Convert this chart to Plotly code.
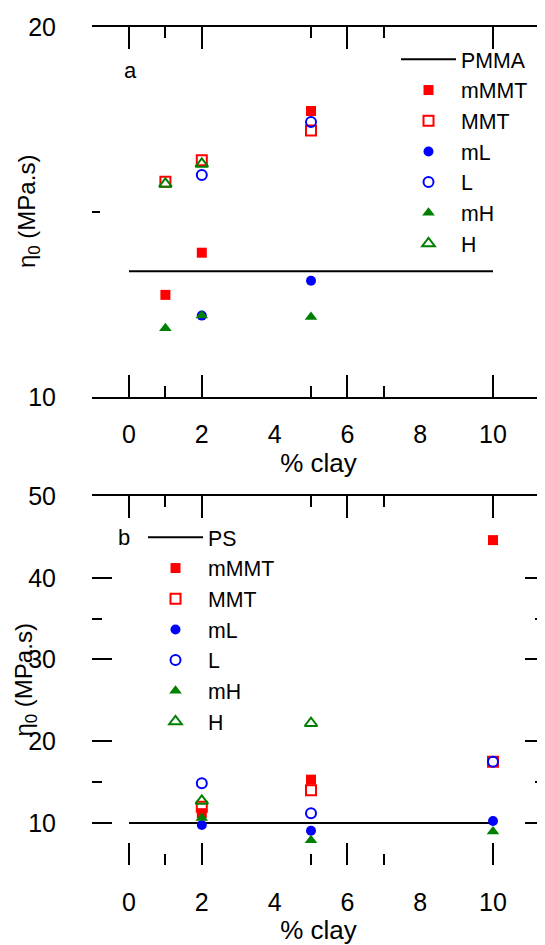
import plotly.graph_objects as go

# ---------------- data ----------------
# Panel a: PMMA matrix
pmma_x = [0, 10]
pmma_y = [13.4, 13.4]
a_x_mMMT = [1, 2, 5]
a_mMMT = [12.76, 13.9, 17.73]
a_x_MMT = [1, 2, 5]
a_MMT = [15.82, 16.4, 17.2]
a_x_mL = [2, 5]
a_mL = [12.2, 13.14]
a_x_L = [2, 5]
a_L = [16.0, 17.43]
a_x_mH = [1, 2, 5]
a_mH = [11.86, 12.2, 12.16]
a_x_H = [1, 2]
a_H = [15.76, 16.3]

# Panel b: PS matrix
ps_x = [0, 10]
ps_y = [10.0, 10.0]
b_x_mMMT = [2, 5, 10]
b_mMMT = [11.2, 15.3, 44.6]
b_x_MMT = [2, 5, 10]
b_MMT = [12.0, 14.0, 17.5]
b_x_mL = [2, 5, 10]
b_mL = [9.75, 9.06, 10.25]
b_x_L = [2, 5, 10]
b_L = [14.86, 11.2, 17.5]
b_x_mH = [2, 5, 10]
b_mH = [10.6, 7.9, 8.95]
b_x_H = [2, 5]
b_H = [12.7, 22.2]

x_label_vals = [0, 2, 4, 6, 8, 10]
x_major_ticks = [0, 2, 6, 10]
x_minor_ticks = [1, 5, 7]
ya_labels = [10, 20]
ya_minor = [15]
yb_labels = [10, 20, 30, 40, 50]
yb_minor = [15, 35]
y_title = "η<sub>0</sub> (MPa.s)"

# ---------------- geometry (reference pixels) ----------------
# browser body adds an 8px margin, so the figure is drawn 8px smaller
OFF = 8
PL, PR, PT, PB = 92, 545, 27, 865          # plot area in reference pixels
W, H = 545 - OFF, 945 - OFF
PW, PH = PR - PL, PB - PT


def px(xp):
    return (xp - PL) / PW


def py(yp):
    return (PB - yp) / PH


FONT = "Liberation Sans"
RED, BLUE, GREEN = "#ff0000", "#0000ff", "#008000"
styles = {
    "mMMT": dict(symbol="square", color=RED, size=10),
    "MMT": dict(symbol="square-open", color=RED, size=10, line=dict(width=2, color=RED)),
    "mL": dict(symbol="circle", color=BLUE, size=10),
    "L": dict(symbol="circle-open", color=BLUE, size=10, line=dict(width=2, color=BLUE)),
    "mH": dict(symbol="triangle-up", color=GREEN, size=11),
    "H": dict(symbol="triangle-up-open", color=GREEN, size=11, line=dict(width=2, color=GREEN)),
}

fig = go.Figure()

# Panel a
fig.add_trace(go.Scatter(x=pmma_x, y=pmma_y, mode="lines", name="PMMA",
                         line=dict(color="black", width=2), xaxis="x", yaxis="y", legend="legend"))
for name, xs, ys in [("mMMT", a_x_mMMT, a_mMMT), ("MMT", a_x_MMT, a_MMT), ("mL", a_x_mL, a_mL),
                     ("L", a_x_L, a_L), ("mH", a_x_mH, a_mH), ("H", a_x_H, a_H)]:
    fig.add_trace(go.Scatter(x=xs, y=ys, mode="markers", name=name, marker=styles[name],
                             xaxis="x", yaxis="y", legend="legend"))

# Panel b
fig.add_trace(go.Scatter(x=ps_x, y=ps_y, mode="lines", name="PS",
                         line=dict(color="black", width=2), xaxis="x2", yaxis="y2", legend="legend2"))
for name, xs, ys in [("mMMT", b_x_mMMT, b_mMMT), ("MMT", b_x_MMT, b_MMT), ("mL", b_x_mL, b_mL),
                     ("L", b_x_L, b_L), ("mH", b_x_mH, b_mH), ("H", b_x_H, b_H)]:
    fig.add_trace(go.Scatter(x=xs, y=ys, mode="markers", name=name, marker=styles[name],
                             xaxis="x2", yaxis="y2", legend="legend2"))

# invisible carriers so that the overlay axes (labels / frame line) get drawn
for xa, ya, xs, ys in [("x3", "y", pmma_x, pmma_y), ("x4", "y2", ps_x, ps_y), ("x5", "y2", ps_x, ps_y)]:
    fig.add_trace(go.Scatter(x=xs, y=ys, mode="lines", line=dict(width=0, color="rgba(0,0,0,0)"),
                             opacity=0, showlegend=False, hoverinfo="skip", xaxis=xa, yaxis=ya))

XR = [(PL - 129) / 36.4, (PR - 129) / 36.4]
DOM_A = [py(397), 1.0]
DOM_B = [0.0, py(496)]
TICKFONT = dict(family=FONT, size=25, color="black")

tick_axis = dict(range=XR, tickmode="array", tickvals=x_major_ticks, ticks="inside", ticklen=22,
                 tickwidth=2, tickcolor="black", showticklabels=False, showgrid=False, zeroline=False,
                 minor=dict(tickmode="array", tickvals=x_minor_ticks, ticks="inside", ticklen=11,
                            tickwidth=2, tickcolor="black", showgrid=False))
label_axis = dict(range=XR, tickmode="array", tickvals=x_label_vals, ticks="", showline=False,
                  showgrid=False, zeroline=False, tickfont=TICKFONT, ticklabelstandoff=20,
                  title=dict(text="% clay", font=dict(family=FONT, size=26, color="black"), standoff=4))
LEGFONT = dict(family=FONT, size=21.3, color="black")
TITLEFONT = dict(family=FONT, size=24, color="black")

fig.update_layout(
    width=W, height=H, autosize=False,
    margin=dict(l=PL - OFF, r=0, t=PT - OFF, b=945 - PB, pad=0),
    paper_bgcolor="white", plot_bgcolor="white",
    font=dict(family=FONT, color="black"),
    xaxis=dict(**tick_axis, anchor="y", domain=[0, 1], showline=True, linecolor="black",
               linewidth=2, mirror="ticks"),
    xaxis3=dict(**label_axis, overlaying="x", anchor="y"),
    xaxis2=dict(**tick_axis, anchor="y2", domain=[0, 1], showline=False, mirror="ticks"),
    xaxis4=dict(range=XR, overlaying="x2", anchor="y2", side="top", showline=True, linecolor="black",
                linewidth=2, ticks="", showticklabels=False, showgrid=False, zeroline=False),
    xaxis5=dict(**label_axis, overlaying="x2", anchor="y2"),
    yaxis=dict(domain=DOM_A, range=[10, 20], tickmode="array", tickvals=ya_labels, ticks="inside",
               ticklen=8, tickwidth=2, tickcolor="black", mirror="ticks", showline=False,
               showgrid=False, zeroline=False, tickfont=TICKFONT, ticklabelstandoff=35,
               minor=dict(tickmode="array", tickvals=ya_minor, ticks="inside", ticklen=8,
                          tickwidth=2, tickcolor="black", showgrid=False)),
    yaxis2=dict(domain=DOM_B, range=[4.86, 50], tickmode="array", tickvals=yb_labels, ticks="inside",
                ticklen=20, tickwidth=2, tickcolor="black", mirror="ticks", showline=False,
                showgrid=False, zeroline=False, tickfont=TICKFONT, ticklabelstandoff=35,
                minor=dict(tickmode="array", tickvals=yb_minor, ticks="inside", ticklen=10,
                           tickwidth=2, tickcolor="black", showgrid=False)),
    legend=dict(x=px(396), y=py(39), xanchor="left", yanchor="top",
                bgcolor="rgba(0,0,0,0)", font=LEGFONT, tracegroupgap=0, itemwidth=55),
    legend2=dict(x=px(143), y=py(517), xanchor="left", yanchor="top",
                 bgcolor="rgba(0,0,0,0)", font=LEGFONT, tracegroupgap=0, itemwidth=55),
    annotations=[
        dict(text="a", xref="paper", yref="paper", x=px(122), y=py(56),
             showarrow=False, font=dict(family=FONT, size=22, color="black")),
        dict(text="b", xref="paper", yref="paper", x=px(116), y=py(537),
             showarrow=False, font=dict(family=FONT, size=22, color="black")),
        dict(text=y_title, xref="paper", yref="y domain", x=px(29), y=0.5, textangle=-90,
             xanchor="center", yanchor="middle", showarrow=False, font=TITLEFONT),
        dict(text=y_title, xref="paper", yref="y2 domain", x=px(25), y=0.5, textangle=-90,
             xanchor="center", yanchor="middle", showarrow=False, font=TITLEFONT),
    ],
    showlegend=True,
)

fig.write_html("out.html")
